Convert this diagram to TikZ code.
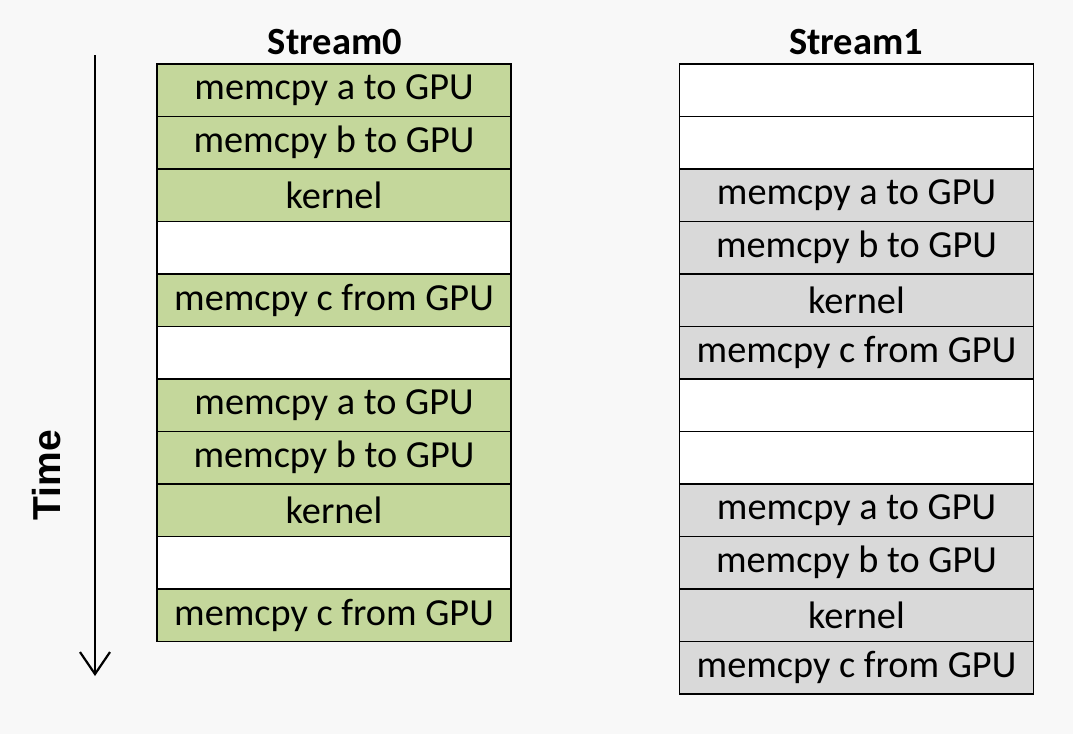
\documentclass[tikz,border=0pt]{standalone}
\usepackage{fontspec}
\setmainfont{Carlito}
\newfontfamily\timefont{Liberation Sans}
\usetikzlibrary{arrows.meta}
\definecolor{slotgreen}{HTML}{C4D79B}
\definecolor{slotgray}{HTML}{D9D9D9}
\definecolor{bggray}{HTML}{F8F8F8}
\begin{document}
\begin{tikzpicture}[x=1pt,y=-1pt,
	every node/.style={font=\fontsize{38.3}{40}\selectfont},
	slot/.style={draw,line width=1.6pt,minimum width=354pt,minimum height=52.5pt,inner sep=0pt},
	s0/.style={slot,fill=slotgreen},
	s1/.style={slot,fill=slotgray},
	gap/.style={slot,fill=white}]

				\fill[bggray] (0,0) rectangle (1073,734);
				\useasboundingbox (0,0) rectangle (1073,734);

				% stream 0
				\node[font=\fontsize{38.5}{40}\selectfont\bfseries] (t0) at (335,42) {Stream0};
				\node[s0] (a0) at (334,90.25) {memcpy a to GPU};
				\node[s0] (a1) at (334,142.75) {memcpy b to GPU};
				\node[s0] (a2) at (334,195.25) {kernel};
				\node[gap] (a3) at (334,247.75) {};
				\node[s0] (a4) at (334,300.25) {memcpy c from GPU};
				\node[gap] (a5) at (334,352.75) {};
				\node[s0] (a6) at (334,405.25) {memcpy a to GPU};
				\node[s0] (a7) at (334,457.75) {memcpy b to GPU};
				\node[s0] (a8) at (334,510.25) {kernel};
				\node[gap] (a9) at (334,562.75) {};
				\node[s0] (a10) at (334,615.25) {memcpy c from GPU};

				% stream 1
				\node[font=\fontsize{38.5}{40}\selectfont\bfseries] (t1) at (856,42) {Stream1};
				\node[gap] (b0) at (856.5,90.25) {};
				\node[gap] (b1) at (856.5,142.75) {};
				\node[s1] (b2) at (856.5,195.25) {memcpy a to GPU};
				\node[s1] (b3) at (856.5,247.75) {memcpy b to GPU};
				\node[s1] (b4) at (856.5,300.25) {kernel};
				\node[s1] (b5) at (856.5,352.75) {memcpy c from GPU};
				\node[gap] (b6) at (856.5,405.25) {};
				\node[gap] (b7) at (856.5,457.75) {};
				\node[s1] (b8) at (856.5,510.25) {memcpy a to GPU};
				\node[s1] (b9) at (856.5,562.75) {memcpy b to GPU};
				\node[s1] (b10) at (856.5,615.25) {kernel};
				\node[s1] (b11) at (856.5,667.75) {memcpy c from GPU};

				% time axis
				\coordinate (start) at (95,55);
				\coordinate (stop) at (95,676);
				\draw[line width=2.2pt,-{Straight Barb[length=22pt,width=30pt,line width=2.2pt]}] (start) -- (stop);
				\node[rotate=90,font=\fontsize{39}{40}\selectfont\timefont\bfseries] (time) at (47,475) {Time};

			\end{tikzpicture}
\end{document}
